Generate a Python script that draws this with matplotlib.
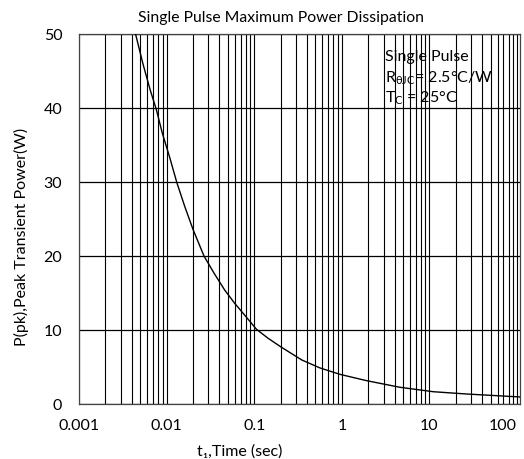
import matplotlib
matplotlib.use('Agg')
import matplotlib.pyplot as plt
from matplotlib.ticker import LogLocator, NullFormatter, FixedLocator

# === Data ===
t_sec = [0.00442, 0.00536, 0.00651, 0.00763, 0.00893, 0.0108, 0.0131,
         0.0161, 0.0200, 0.0267, 0.0347, 0.0460, 0.0599, 0.0779, 0.106,
         0.144, 0.205, 0.349, 0.561, 0.949, 1.92, 4.60, 11.05, 26.6, 108]
p_pk = [50.0, 46.0, 42.4, 39.8, 36.6, 33.4, 29.9,
        26.7, 23.6, 20.0, 17.7, 15.4, 13.6, 12.0, 10.1,
        8.88, 7.66, 5.95, 4.88, 4.01, 3.15, 2.26, 1.66, 1.35, 0.95]
x_ticks = [0.001, 0.01, 0.1, 1, 10, 100]
x_labels = ['0.001', '0.01', '0.1', '1', '10', '100']
y_ticks = [0, 10, 20, 30, 40, 50]

plt.rcParams['font.family'] = ['Lato', 'DejaVu Sans']
plt.rcParams['mathtext.fontset'] = 'custom'
plt.rcParams['mathtext.rm'] = 'Lato'
plt.rcParams['mathtext.it'] = 'Lato'

fig = plt.figure(figsize=(5.24, 4.59), dpi=100)
ax = fig.add_axes([79 / 524, 1 - 404 / 459, 441 / 524, 370 / 459])

ax.plot(t_sec, p_pk, color='black', lw=1.0, zorder=3)

ax.set_xscale('log')
ax.set_xlim(0.001, 108)
ax.set_ylim(0, 50)

ax.xaxis.set_major_locator(FixedLocator(x_ticks))
ax.set_xticklabels(x_labels)
ax.xaxis.set_minor_locator(LogLocator(base=10, subs=range(2, 10), numticks=20))
ax.xaxis.set_minor_formatter(NullFormatter())
ax.set_yticks(y_ticks)

ax.grid(True, which='both', axis='x', color='black', lw=0.8)
ax.grid(True, which='major', axis='y', color='black', lw=0.9)
ax.tick_params(which='both', length=0, labelsize=11.5)
ax.tick_params(axis='x', pad=11)
ax.tick_params(axis='y', pad=12)
ax.get_xticklabels()[-1].set_horizontalalignment('right')
for s in ax.spines.values():
    s.set_linewidth(0.9)
    s.set_color('#444444')

fig.text(281 / 524, 1 - 18 / 459, 'Single Pulse Maximum Power Dissipation',
         ha='center', va='center', fontsize=11.3)
fig.text(240 / 524, 1 - 452 / 459, 't\u2081,Time (sec)',
         ha='center', va='center', fontsize=11.5)
fig.text(21 / 524, 1 - 237 / 459, 'P(pk),Peak Transient Power(W)',
         ha='center', va='center', rotation=90, fontsize=11.5)

# annotation box text
fig.text(385 / 524, 1 - 57 / 459, 'Single Pulse',
         ha='left', va='center', fontsize=11.5)
fig.text(385 / 524, 1 - 78 / 459, r'R$_{\theta\mathrm{JC}}$' + '= 2.5\u00b0C/W',
         ha='left', va='center', fontsize=11.5)
fig.text(385 / 524, 1 - 98 / 459, r'T$_{\mathrm{C}}$' + ' = 25\u00b0C',
         ha='left', va='center', fontsize=11.5)

fig.savefig('out.png', dpi=100)
